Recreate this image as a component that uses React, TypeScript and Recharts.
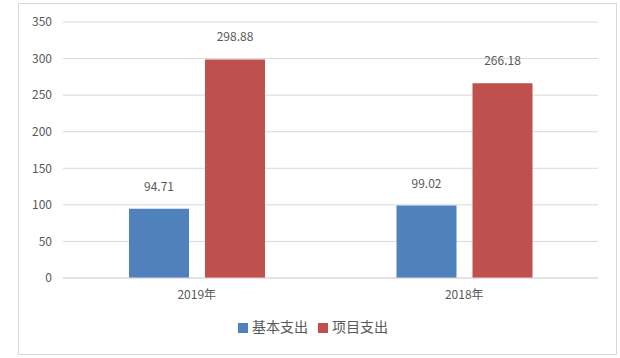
import React from 'react';
import { BarChart, Bar, XAxis, YAxis, CartesianGrid, Legend, LabelList } from 'recharts';

const categories = ['2019年', '2018年'];
const basicSpending = [94.71, 99.02];
const projectSpending = [298.88, 266.18];
const yTicks = [0, 50, 100, 150, 200, 250, 300, 350];

const data = categories.map((name, i) => ({
  name,
  basic: basicSpending[i],
  project: projectSpending[i],
}));

const font = '"Noto Sans CJK SC", "Noto Sans", sans-serif';
const textColor = '#595959';

export default function App() {
  return (
    <div style={{ position: 'fixed', left: 0, top: 0, width: 620, height: 358, background: '#fff', fontFamily: font }}>
      <div style={{ position: 'absolute', left: 18, top: 3, width: 597, height: 350, border: '1px solid #d9d9d9' }} />
      <BarChart
        width={620}
        height={358}
        data={data}
        margin={{ top: 22, right: 22, left: 18, bottom: 22 }}
        barCategoryGap={66}
        barGap={16}
      >
        <CartesianGrid vertical={false} stroke="#d9d9d9" />
        <XAxis
          dataKey="name"
          tickLine={false}
          axisLine={{ stroke: '#d9d9d9' }}
          tick={{ fill: textColor, fontSize: 12, fontFamily: font }}
          tickMargin={6}
          height={38}
        />
        <YAxis
          domain={[0, 350]}
          ticks={yTicks}
          axisLine={false}
          tickLine={false}
          width={45}
          tickMargin={5}
          tick={{ fill: textColor, fontSize: 12, fontFamily: font }}
        />
        <Legend
          verticalAlign="bottom"
          iconType="square"
          iconSize={10}
          wrapperStyle={{ fontSize: 14, fontFamily: font, color: textColor, paddingLeft: 20, boxSizing: 'border-box' }}
          formatter={(v) => <span style={{ color: textColor }}>{v}</span>}
        />
        <Bar dataKey="basic" name="基本支出" fill="#4f81bd" isAnimationActive={false}>
          <LabelList dataKey="basic" position="top" offset={18} fill={textColor} fontSize={12} fontFamily={font} />
        </Bar>
        <Bar dataKey="project" name="项目支出" fill="#c0504d" isAnimationActive={false}>
          <LabelList dataKey="project" position="top" offset={18} fill={textColor} fontSize={12} fontFamily={font} />
        </Bar>
      </BarChart>
    </div>
  );
}
